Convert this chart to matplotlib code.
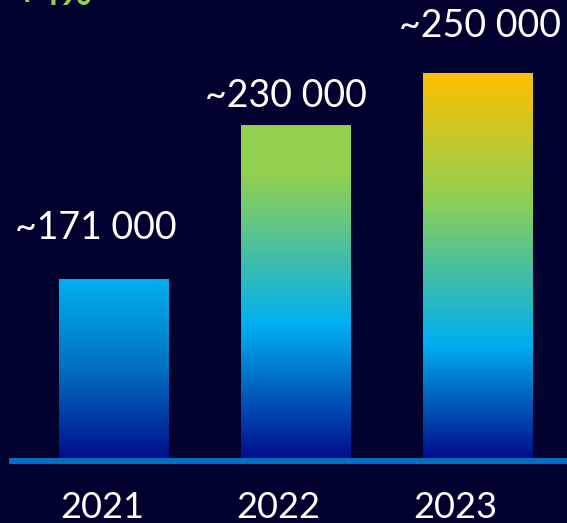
import numpy as np
import matplotlib
matplotlib.use("Agg")
import matplotlib.pyplot as plt
from matplotlib.colors import LinearSegmentedColormap

# --- data ---
years = ["2021", "2022", "2023"]
values = [171000, 230000, 250000]
value_labels = ["~171 000", "~230 000", "~250 000"]
growth_text = "+4%"

# --- style ---
BG = "#00012F"
BASE_COLOR = "#0070C0"
GREEN = "#92D050"
DARK_BLUE = "#000E8C"
MID_BLUE = "#0070C0"
LIGHT_BLUE = "#00B0F0"
YELLOW = "#FFC000"

# per-bar gradient stops (bottom -> top)
gradients = [
    [(0.0, DARK_BLUE), (0.5, MID_BLUE), (1.0, LIGHT_BLUE)],
    [(0.0, DARK_BLUE), (0.4, LIGHT_BLUE), (0.85, GREEN), (1.0, GREEN)],
    [(0.0, DARK_BLUE), (0.3, LIGHT_BLUE), (0.68, GREEN), (1.0, YELLOW)],
]

# layout tweaks (pixel offsets)
label_dx = [-17.5, -10, 2.5]
label_dy = [52, 30, 48]
year_dx = [-11, -17.5, -22.5]

BASELINE = 102600
BAR_W = 0.6

fig = plt.figure(figsize=(5.67, 5.23), dpi=100, facecolor=BG)
ax = fig.add_axes([0, 0, 1, 1])
ax.set_facecolor(BG)
ax.set_xlim(-0.624, 2.492)
ax.set_ylim(77670, 278300)
ax.axis("off")

for i, (v, stops) in enumerate(zip(values, gradients)):
    cmap = LinearSegmentedColormap.from_list(f"bar{i}", stops)
    grad = np.linspace(0, 1, 256).reshape(-1, 1)
    ax.imshow(grad, cmap=cmap, origin="lower", aspect="auto",
              extent=[i - BAR_W / 2, i + BAR_W / 2, BASELINE, v],
              interpolation="bilinear", zorder=2)

    ax.annotate(value_labels[i], xy=(i, v), xytext=(label_dx[i] * 0.72, label_dy[i] * 0.72),
                textcoords="offset points", ha="center", va="center",
                color="white", fontsize=27, family="Lato")

    ax.annotate(years[i], xy=(i, 0), xycoords=("data", "figure pixels"),
                xytext=(year_dx[i] * 0.72, 16 * 0.72), textcoords="offset points",
                ha="center", va="center", color="white", fontsize=26, family="Lato")

# baseline axis line
ax.axhline(BASELINE - 1150, xmin=12 / 567, xmax=1, color=BASE_COLOR, lw=4.3, zorder=3)

# partially visible heading at top (cut off by the top edge, as in the source)
fig.text(92 / 567, 518 / 523, growth_text, ha="right", va="baseline",
         color=GREEN, fontsize=28, fontweight="bold", family="Lato")

fig.savefig("out.png", dpi=100, facecolor=BG)
